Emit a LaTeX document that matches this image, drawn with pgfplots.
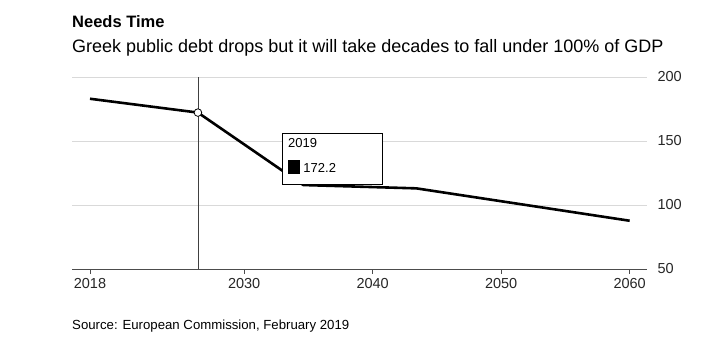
\documentclass[border=0pt]{standalone}
\usepackage{fontspec}
\setmainfont{Liberation Sans}
\usepackage{pgfplots}
\pgfplotsset{compat=1.18}
\begin{document}
\begin{tikzpicture}[x=1pt,y=1pt]
\path[use as bounding box] (0,0) rectangle (720,340);
\node[anchor=base west,inner sep=0pt,font=\fontsize{16.5}{20}\selectfont\bfseries] at (72,312) {Needs Time};
\node[anchor=base west,inner sep=0pt,font=\fontsize{18}{20}\selectfont] at (72,287) {Greek public debt drops but it will take decades to fall under 100\% of GDP};
\node[anchor=base west,inner sep=0pt,font=\fontsize{13.2}{15}\selectfont] at (72,11) {Source: European Commission, February 2019};
\begin{axis}[
  at={(72pt,71pt)}, anchor=south west,
  scale only axis, width=575pt, height=192pt,
  xmin=2016.6, xmax=2061.35, ymin=50, ymax=200,
  separate axis lines,
  axis x line*=bottom,
  axis y line*=right,
  x axis line style={black!70, -},
  y axis line style={draw=none},
  ytick={50,100,150,200},
  ymajorgrids, grid style={black!15, line width=0.8pt},
  yticklabel pos=right,
  xtick={2018,2030,2040,2050,2060},
  tick align=outside, xtick pos=bottom,
  major tick length=5pt,
  x tick style={black!70, line width=0.8pt},
  y tick style={draw=none},
  /pgf/number format/assume math mode=true,
  /pgf/number format/1000 sep={},
  tick label style={font=\fontsize{14.5}{16}\selectfont, text=black!85},
  x tick label style={yshift=-1pt},
  y tick label style={anchor=west, xshift=2pt},
  clip=false,
]
\addplot[black!75, line width=0.8pt] coordinates {(2026.4,50) (2026.4,200)};
\addplot[black, line width=2.6pt, line join=round] coordinates {
  (2018,183) (2026.4,172.2) (2034.6,115.6) (2043.4,113) (2060,87.7)};
\addplot[only marks, mark=*, mark size=3.8pt, mark options={fill=white, draw=black, line width=0.8pt}] coordinates {(2026.4,172.2)};
\draw[black, fill=white, line width=0.8pt] (axis cs:2032.94,156.25) rectangle (axis cs:2040.72,116.4);
\node[anchor=base west, inner sep=0pt, font=\fontsize{13}{15}\selectfont] at (axis cs:2033.4,145.3) {2019};
\fill[black] (axis cs:2033.4,134.8) rectangle (axis cs:2034.33,124.6);
\node[anchor=base west, inner sep=0pt, font=\fontsize{13}{15}\selectfont] at (axis cs:2034.6,125.3) {172.2};
\end{axis}
\end{tikzpicture}
\end{document}
